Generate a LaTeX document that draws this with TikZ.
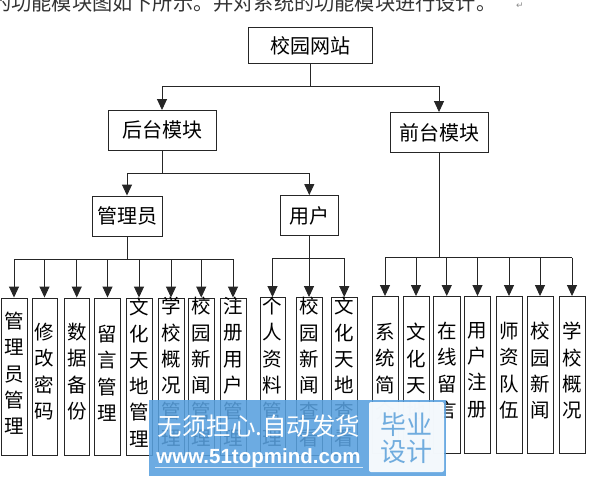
\documentclass[tikz,border=0pt]{standalone}
\usepackage{fontspec}
\setmainfont{Noto Sans CJK SC}
\newfontfamily\wmfont{Liberation Sans}
\newfontfamily\symfont{DejaVu Sans}
\usetikzlibrary{arrows.meta}
\definecolor{wmblue}{RGB}{88,160,222}
\definecolor{wmtext}{RGB}{112,172,222}
\tikzset{
  box/.style={draw=black!85,line width=.9pt,fill=white,inner sep=0pt,font=\fontsize{20}{20}\selectfont},
  vtext/.style={anchor=north,inner sep=0pt,align=center,font=\fontsize{19.5}{26.3}\selectfont},
  wire/.style={draw=black!85,line width=.9pt},
  feed/.style={wire,-{Triangle[length=11pt,width=10pt]}},
}
\newcommand{\mainbox}[6]{\node[box,minimum width=#4pt-#3pt,minimum height=#6pt-#5pt] (#1) at ({(#3+#4)/2},{(#5+#6)/2}) {#2};}
\newcommand{\leafbox}[7]{%
  \node[box,minimum width=#4pt-#3pt,minimum height=#6pt-#5pt] (#1) at ({(#3+#4)/2},{(#5+#6)/2}) {};
  \node[vtext] (#1t) at ({(#3+#4)/2},#7) {#2};}
\begin{document}
\begin{tikzpicture}[x=1pt,y=-1pt]
\useasboundingbox (0,0) rectangle (596,476);
\begin{scope}
\clip (0,0) rectangle (596,476);
\fill[white] (0,0) rectangle (596,476);
\node[anchor=west,inner sep=0pt,text=black!80,font=\fontsize{20.2}{20}\selectfont] (head) at (-9,3) {的功能模块图如下所示。并对系统的功能模块进行设计。};
\node[inner sep=0pt,text=black!45,font=\symfont\fontsize{9}{9}\selectfont] (ret) at (520,6) {↵};

\mainbox{root}{校园网站}{248}{372}{27.7}{63.3}
\mainbox{back}{后台模块}{108}{216}{110.5}{150}
\mainbox{front}{前台模块}{390}{488}{112.5}{152.5}
\mainbox{admin}{管理员}{92}{162}{196}{236}
\mainbox{user}{用户}{280.6}{338}{195.5}{235.5}

\leafbox{a}{管\\理\\员\\管\\理}{1}{27}{298}{455}{312}
\leafbox{b}{修\\改\\密\\码}{32}{57}{298}{455}{323}
\leafbox{c}{数\\据\\备\\份}{64}{89.5}{298}{455}{323}
\leafbox{d}{留\\言\\管\\理}{94.5}{120.5}{298}{455}{325}
\leafbox{e}{文\\化\\天\\地\\管\\理}{126}{152}{298}{455}{298}
\leafbox{f}{学\\校\\概\\况\\管\\理}{158}{184}{298}{455}{297}
\leafbox{g}{校\\园\\新\\闻\\管\\理}{188.5}{214}{298}{455}{297}
\leafbox{h}{注\\册\\用\\户\\管\\理}{220}{246}{298}{455}{297}
\leafbox{i}{个\\人\\资\\料\\管\\理}{260}{285}{297.5}{455}{297}
\leafbox{j}{校\\园\\新\\闻\\查\\看}{296}{322}{297.5}{455}{297}
\leafbox{k}{文\\化\\天\\地\\查\\看}{331}{357.5}{297.5}{455}{297}
\leafbox{m}{系\\统\\简\\介}{372}{398}{296.5}{453}{323}
\leafbox{n}{文\\化\\天\\地}{403}{429}{296.5}{453}{323}
\leafbox{o}{在\\线\\留\\言}{433.5}{460}{296.5}{453}{322}
\leafbox{p}{用\\户\\注\\册}{464.5}{490.5}{296.5}{453}{322}
\leafbox{q}{师\\资\\队\\伍}{496}{522}{296.5}{453}{322}
\leafbox{r}{校\\园\\新\\闻}{527}{553}{296.5}{453}{322}
\leafbox{s}{学\\校\\概\\况}{559}{585}{296.5}{453}{322}

\coordinate (bus0) at (310,86.5);
\coordinate (bus1) at (162,173);
\coordinate (bus2) at (127,259.3);
\coordinate (bus3) at (309.3,258);
\coordinate (bus4) at (439,257.7);

\draw[wire] (root.south) -- (root.south |- bus0);
\draw[wire] (bus0 -| back.north) -- (bus0 -| front.north);
\foreach \t in {back,front} \draw[feed] (bus0 -| \t.north) -- (\t.north);

\draw[wire] (back.south) -- (back.south |- bus1);
\draw[wire] (bus1 -| admin.north) -- (bus1 -| user.north);
\foreach \t in {admin,user} \draw[feed] (bus1 -| \t.north) -- (\t.north);

\draw[wire] (admin.south) -- (admin.south |- bus2);
\draw[wire] (bus2 -| a.north) -- (bus2 -| h.north);
\foreach \t in {a,b,c,d,e,f,g,h} \draw[feed] (bus2 -| \t.north) -- (\t.north);

\draw[wire] (user.south) -- (user.south |- bus3);
\draw[wire] (bus3 -| i.north) -- (bus3 -| k.north);
\foreach \t in {i,j,k} \draw[feed] (bus3 -| \t.north) -- (\t.north);

\draw[wire] (front.south) -- (front.south |- bus4);
\draw[wire] (bus4 -| m.north) -- (bus4 -| s.north);
\foreach \t in {m,n,o,p,q,r,s} \draw[feed] (bus4 -| \t.north) -- (\t.north);

\fill[wmblue,fill opacity=.88] (149,400) rectangle (446,476);
\fill[white,fill opacity=.92,rounded corners=2pt] (369,402) rectangle (444,472);
\node[inner sep=0pt,text=white,font=\fontsize{24.5}{24.5}\selectfont] (wm1) at (259,426) {无须担心.自动发货};
\node[inner sep=0pt,text=white,font=\wmfont\bfseries\fontsize{20.5}{20.5}\selectfont] (wm2) at (258.5,458) {www.51topmind.com};
\draw[white,line width=.8pt,opacity=.7] (155,467) -- (363,467);
\node[inner sep=0pt,text=wmtext,font=\fontsize{26}{26}\selectfont] (wm3) at (406,425) {毕业};
\node[inner sep=0pt,text=wmtext,font=\fontsize{26}{26}\selectfont] (wm4) at (406,452) {设计};
\end{scope}
\end{tikzpicture}
\end{document}
